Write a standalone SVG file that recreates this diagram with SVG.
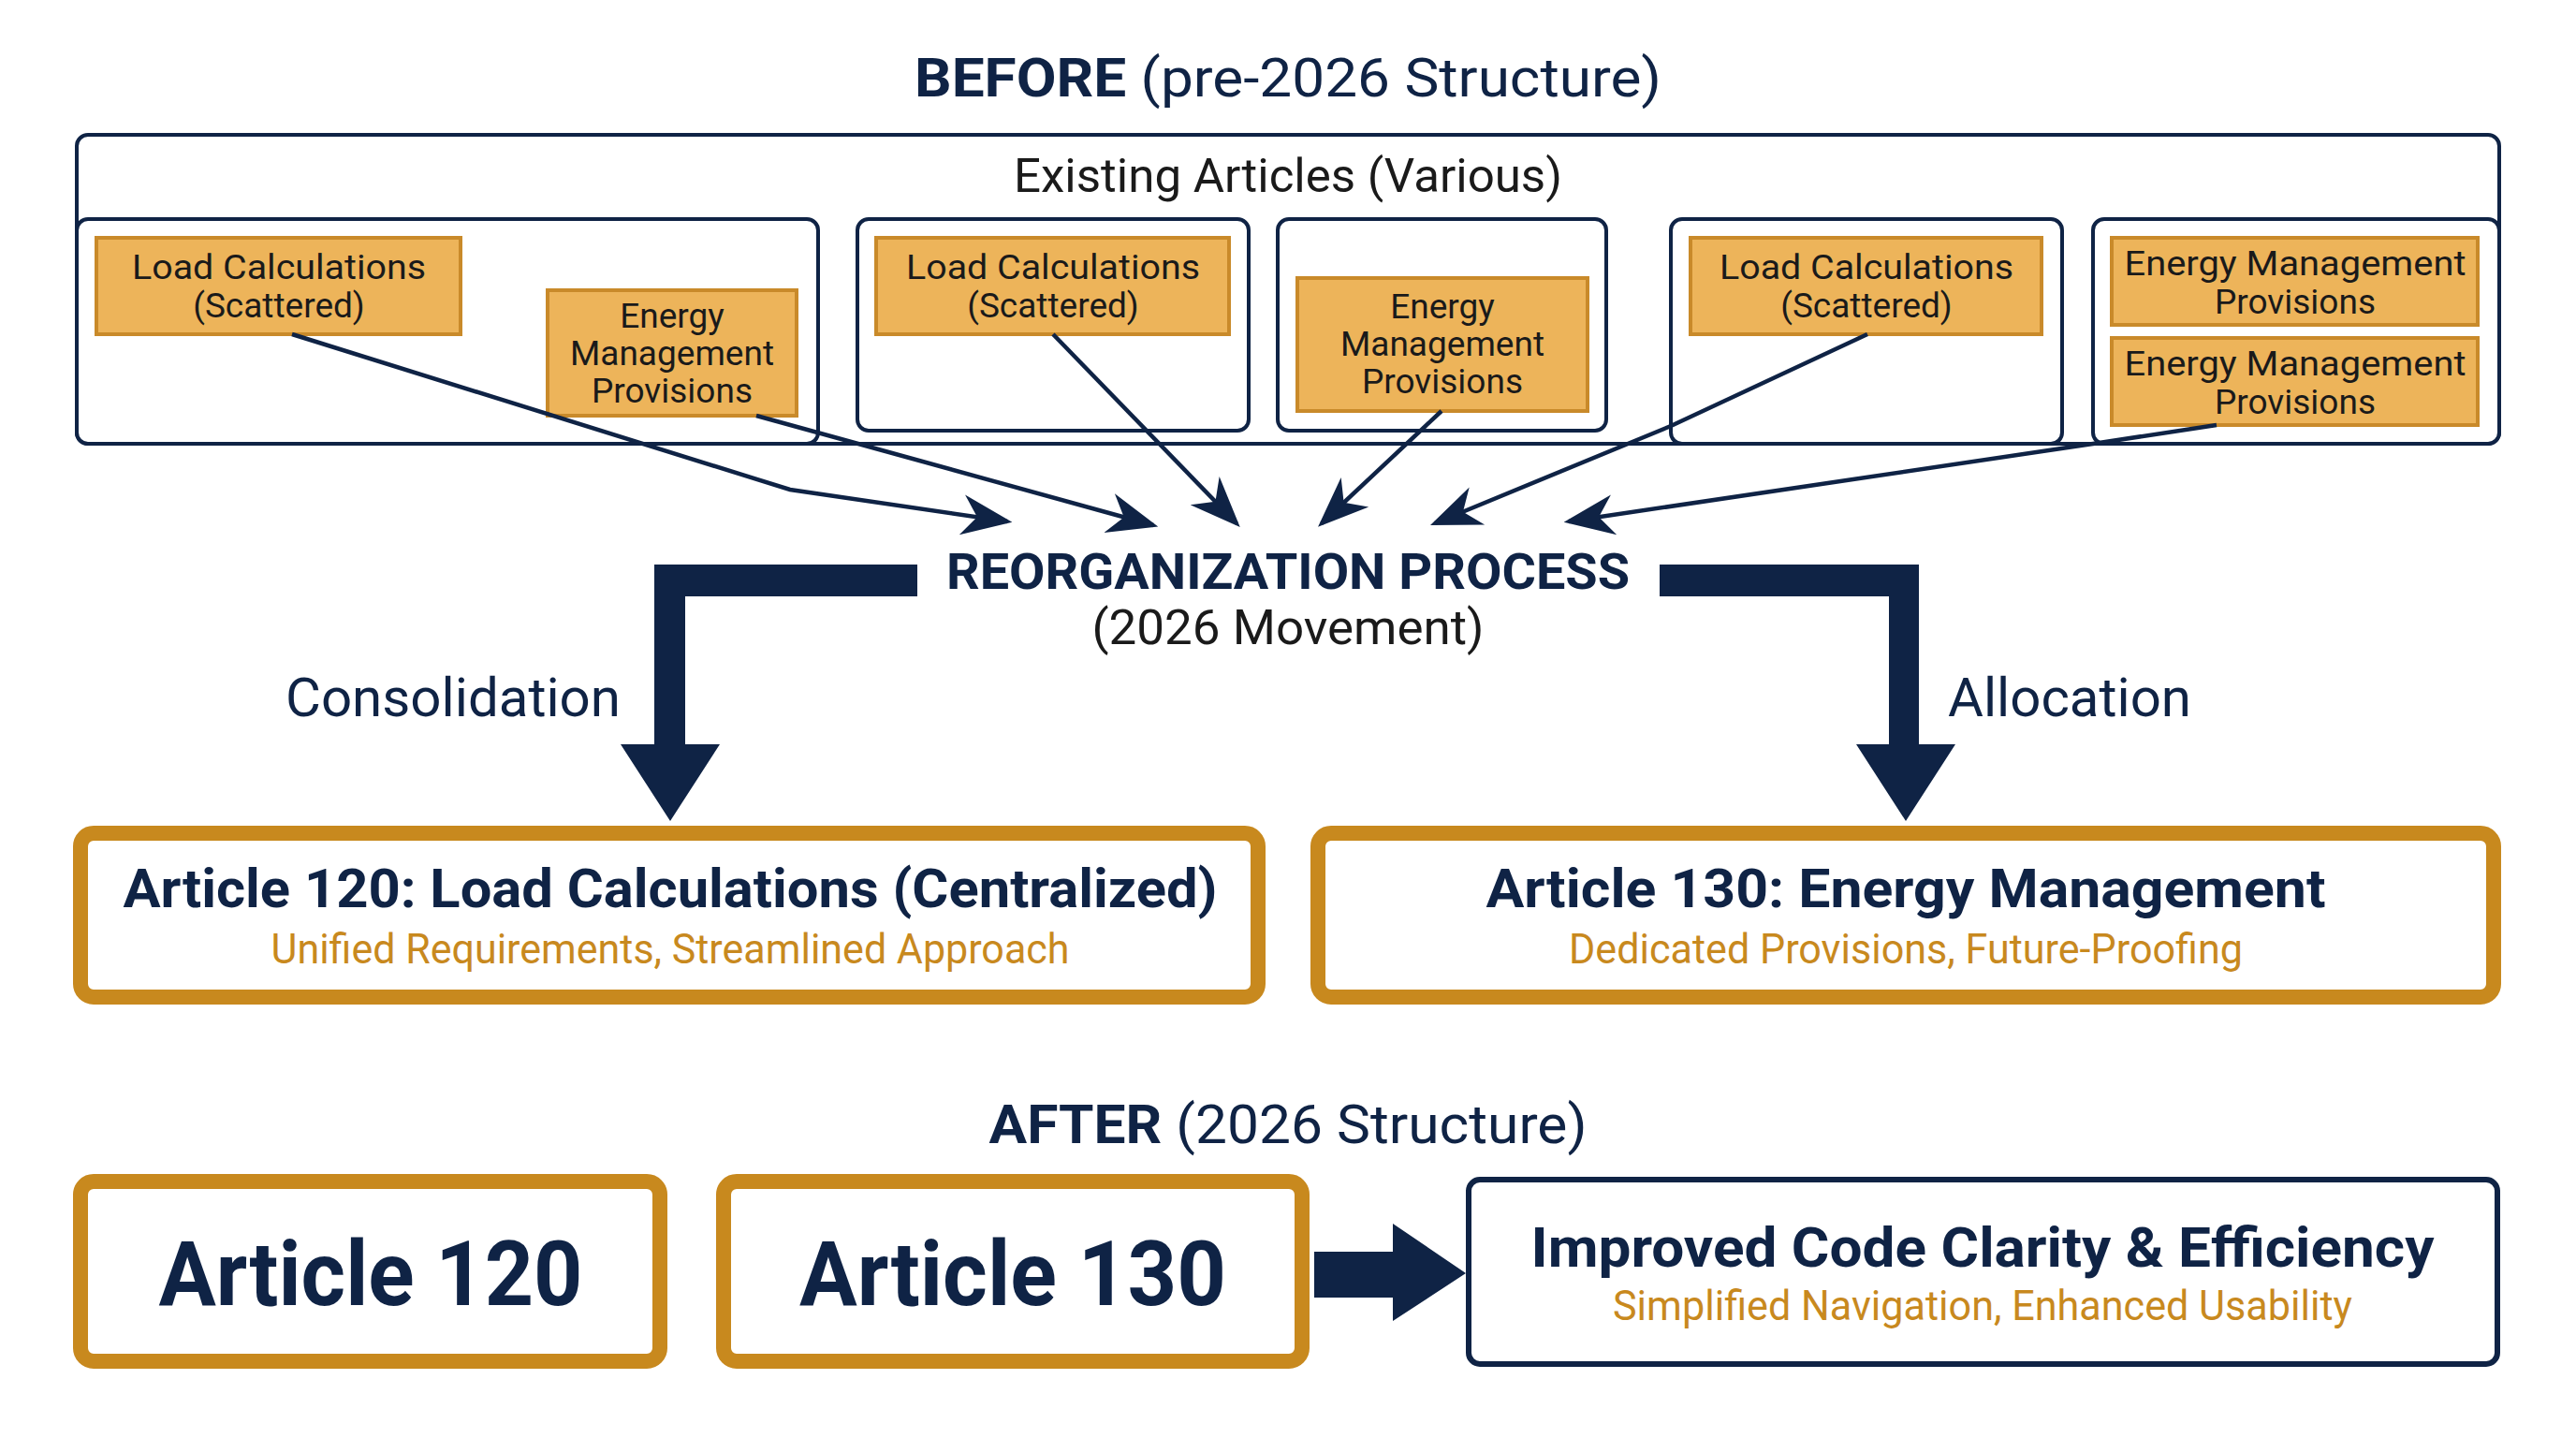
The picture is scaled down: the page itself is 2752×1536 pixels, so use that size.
<svg xmlns="http://www.w3.org/2000/svg" width="2752" height="1536" viewBox="0 0 2752 1536">
<defs>
<style>
text{font-family:Roboto,"Liberation Sans",sans-serif;text-anchor:middle}
.frame{fill:#fff;stroke:#0F2345;stroke-width:4}
.or{fill:#EDB45A;stroke:#C98A2A;stroke-width:4}
.ot{font-size:37px;fill:#1a1a1a}
.conn{fill:none;stroke:#0F2345;stroke-width:4.5}
.navy{fill:#0F2345}
.gold{fill:#fff;stroke:#C8891E;stroke-width:16}
.sub{font-size:44px;fill:#C8891E}
.hd{font-weight:bold;fill:#0F2345}
</style>
<marker id="ah2" viewBox="0 0 10 10" refX="9" refY="5" markerWidth="12" markerHeight="12" orient="auto">
<path d="M0,1 L10,5 L0,9 L3,5 z" fill="#0F2345"/>
</marker>
</defs>
<rect width="2752" height="1536" fill="#fff"/>

<text x="1376" y="103" font-size="58" fill="#0F2345" textLength="798" lengthAdjust="spacingAndGlyphs"><tspan font-weight="bold">BEFORE</tspan> (pre-2026 Structure)</text>

<g id="existing">
<rect class="frame" x="82" y="144" width="2588" height="330" rx="12"/>
<text x="1376" y="205" font-size="50" fill="#1a1a1a" textLength="586" lengthAdjust="spacingAndGlyphs">Existing Articles (Various)</text>
</g>
<g id="box1"><rect class="frame" x="82" y="234" width="792" height="240" rx="12"/></g>
<g id="box2"><rect class="frame" x="916" y="234" width="418" height="226" rx="12"/></g>
<g id="box3"><rect class="frame" x="1365" y="234" width="351" height="226" rx="12"/></g>
<g id="box4"><rect class="frame" x="1785" y="234" width="418" height="240" rx="12"/></g>
<g id="box5"><rect class="frame" x="2236" y="234" width="434" height="240" rx="12"/></g>

<g id="lc1"><rect class="or" x="103" y="254" width="389" height="103"/>
<text class="ot" x="298" y="298" textLength="314" lengthAdjust="spacingAndGlyphs">Load Calculations</text><text class="ot" x="298" y="339">(Scattered)</text></g>
<g id="emp1"><rect class="or" x="585" y="310" width="266" height="134"/>
<text class="ot" x="718" y="350">Energy</text><text class="ot" x="718" y="390">Management</text><text class="ot" x="718" y="430">Provisions</text></g>
<g id="lc2"><rect class="or" x="936" y="254" width="377" height="103"/>
<text class="ot" x="1125" y="298" textLength="314" lengthAdjust="spacingAndGlyphs">Load Calculations</text><text class="ot" x="1125" y="339">(Scattered)</text></g>
<g id="emp2"><rect class="or" x="1386" y="297" width="310" height="142"/>
<text class="ot" x="1541" y="340">Energy</text><text class="ot" x="1541" y="380">Management</text><text class="ot" x="1541" y="420">Provisions</text></g>
<g id="lc3"><rect class="or" x="1806" y="254" width="375" height="103"/>
<text class="ot" x="1994" y="298" textLength="314" lengthAdjust="spacingAndGlyphs">Load Calculations</text><text class="ot" x="1994" y="339">(Scattered)</text></g>
<g id="emp3"><rect class="or" x="2256" y="254" width="391" height="93"/>
<text class="ot" x="2452" y="294" textLength="365" lengthAdjust="spacingAndGlyphs">Energy Management</text><text class="ot" x="2452" y="335">Provisions</text></g>
<g id="emp4"><rect class="or" x="2256" y="361" width="391" height="93"/>
<text class="ot" x="2452" y="401" textLength="365" lengthAdjust="spacingAndGlyphs">Energy Management</text><text class="ot" x="2452" y="442">Provisions</text></g>

<g id="connectors">
<polyline class="conn" points="312,357 844,523 1076,557" marker-end="url(#ah2)"/>
<line class="conn" x1="808" y1="444" x2="1232" y2="561" marker-end="url(#ah2)"/>
<line class="conn" x1="1125" y1="357" x2="1321" y2="559" marker-end="url(#ah2)"/>
<line class="conn" x1="1540" y1="439" x2="1412" y2="559" marker-end="url(#ah2)"/>
<polyline class="conn" points="1995,357 1785,455 1533,559" marker-end="url(#ah2)"/>
<polyline class="conn" points="2368,454 2236,474 1676,557" marker-end="url(#ah2)"/>
<path class="navy" d="M980,603 L699,603 L699,795 L663,795 L716,877 L769,795 L732,795 L732,637 L980,637 z"/>
<path class="navy" d="M1773,603 L2050,603 L2050,795 L2089,795 L2036,877 L1983,795 L2018,795 L2018,637 L1773,637 z"/>
<path class="navy" d="M1404,1337 L1488,1337 L1488,1307 L1566,1360 L1488,1411 L1488,1386 L1404,1386 z"/>
</g>

<g id="reorg">
<text class="hd" x="1376" y="629" font-size="54" textLength="730" lengthAdjust="spacingAndGlyphs">REORGANIZATION PROCESS</text>
<text x="1376" y="688" font-size="52" fill="#1a1a1a" textLength="419" lengthAdjust="spacingAndGlyphs">(2026 Movement)</text>
</g>
<text x="484" y="765" font-size="58" fill="#0F2345" textLength="358" lengthAdjust="spacingAndGlyphs">Consolidation</text>
<text x="2211" y="765" font-size="58" fill="#0F2345" textLength="260" lengthAdjust="spacingAndGlyphs">Allocation</text>

<g id="art120c"><rect class="gold" x="86" y="890" width="1258" height="175" rx="14"/>
<text class="hd" x="716" y="969" font-size="58" textLength="1169" lengthAdjust="spacingAndGlyphs">Article 120: Load Calculations (Centralized)</text>
<text class="sub" x="716" y="1029" textLength="853" lengthAdjust="spacingAndGlyphs">Unified Requirements, Streamlined Approach</text></g>
<g id="art130c"><rect class="gold" x="1408" y="890" width="1256" height="175" rx="14"/>
<text class="hd" x="2036" y="969" font-size="58" textLength="897" lengthAdjust="spacingAndGlyphs">Article 130: Energy Management</text>
<text class="sub" x="2036" y="1029" textLength="720" lengthAdjust="spacingAndGlyphs">Dedicated Provisions, Future-Proofing</text></g>

<text x="1376" y="1221" font-size="58" fill="#0F2345" textLength="639" lengthAdjust="spacingAndGlyphs"><tspan font-weight="bold">AFTER</tspan> (2026 Structure)</text>

<g id="a120"><rect class="gold" x="86" y="1262" width="619" height="192" rx="14"/>
<text class="hd" x="396" y="1394" font-size="96" textLength="453" lengthAdjust="spacingAndGlyphs">Article 120</text></g>
<g id="a130"><rect class="gold" x="773" y="1262" width="618" height="192" rx="14"/>
<text class="hd" x="1082" y="1394" font-size="96" textLength="456" lengthAdjust="spacingAndGlyphs">Article 130</text></g>
<g id="improved"><rect x="1569" y="1260" width="1099" height="197" rx="12" fill="#fff" stroke="#0F2345" stroke-width="6"/>
<text class="hd" x="2118" y="1353" font-size="60" textLength="965" lengthAdjust="spacingAndGlyphs">Improved Code Clarity &amp; Efficiency</text>
<text class="sub" x="2118" y="1410" textLength="790" lengthAdjust="spacingAndGlyphs">Simplified Navigation, Enhanced Usability</text></g>
</svg>
